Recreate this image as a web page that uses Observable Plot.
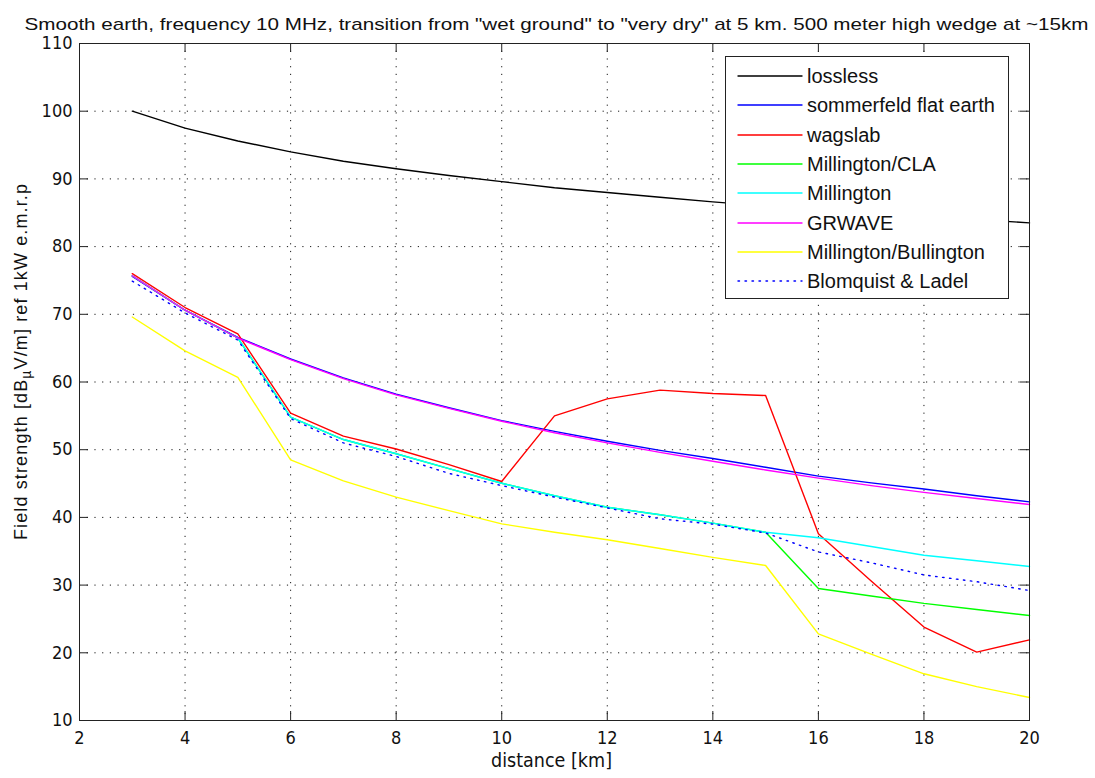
<!DOCTYPE html>
<html><head><meta charset="utf-8">
<script src="https://cdn.jsdelivr.net/npm/d3@7"></script>
<script src="https://cdn.jsdelivr.net/npm/@observablehq/plot@0.6"></script>
<style>
body{margin:0;background:#fff;}
#wrap{position:relative;width:1095px;height:778px;overflow:hidden;}
#legend{position:absolute;left:725px;top:56px;width:284px;height:243px;border:1px solid #222;background:#fff;box-sizing:border-box;font-family:"Liberation Sans",Arial,sans-serif;font-size:20px;color:#111;}
.row{position:absolute;left:0;height:28px;line-height:28px;white-space:nowrap;}
.row svg{position:absolute;left:11px;top:0;}
.row span{position:absolute;left:81px;top:0;}
</style></head><body><div id="wrap"></div>
<script>
const distance = [3,4,5,6,7,8,9,10,11,12,13,14,15,16,17,18,19,20];
const lossless = [100,97.5,95.6,94.0,92.6,91.5,90.5,89.6,88.7,88.0,87.3,86.6,86.0,85.5,84.9,84.4,84.0,83.5];
const sommerfeld = [75.6,70.6,66.6,63.4,60.6,58.2,56.2,54.3,52.7,51.25,49.9,48.7,47.4,46.1,45.1,44.2,43.2,42.3];
const wagslab = [76.0,71.0,67.1,55.4,52.0,50.1,47.8,45.3,55.0,57.5,58.8,58.3,58.0,37.6,30.6,23.8,20.1,21.9];
const millingtonCLA = [75.7,70.6,66.5,54.8,51.5,49.4,47.2,45.05,43.2,41.5,40.4,39.15,37.8,29.5,28.4,27.3,26.4,25.5];
const millington = [75.7,70.6,66.5,54.8,51.5,49.4,47.2,45.05,43.2,41.5,40.4,39.15,37.8,37.0,35.7,34.4,33.6,32.75];
const grwave = [75.7,70.6,66.5,63.3,60.5,58.1,56.1,54.2,52.5,51.0,49.6,48.3,47.0,45.8,44.7,43.7,42.8,41.9];
const bullington = [69.6,64.6,60.7,48.5,45.4,43.0,41.0,39.05,37.8,36.7,35.4,34.1,32.9,22.8,19.8,16.9,15.0,13.4];
const blomquist = [74.9,70.2,66.2,54.6,51.0,49.0,46.5,44.7,43.0,41.4,39.8,39.0,37.7,34.9,33.3,31.5,30.5,29.2];

const seriesNames = ["lossless","sommerfeld flat earth","wagslab","Millington/CLA","Millington","GRWAVE","Millington/Bullington","Blomquist & Ladel"];
const seriesValues = [lossless,sommerfeld,wagslab,millingtonCLA,millington,grwave,bullington,blomquist];
const seriesColors = ["#000000","#0000ff","#ff0000","#00ff00","#00ffff","#ff00ff","#ffff00","#0000ff"];
const seriesDash = [null,null,null,null,null,null,null,"1.5,5.5"];

const xTicks = [2,4,6,8,10,12,14,16,18,20];
const yTicks = [10,20,30,40,50,60,70,80,90,100,110];
const titleText = "Smooth earth, frequency 10 MHz, transition from \"wet ground\" to \"very dry\" at 5 km. 500 meter high wedge at ~15km";
const xLabel = "distance [km]";
const yLabel = "Field strength [dBµV/m] ref 1kW e.m.r.p";

const W = 1095, H = 778, mL = 79, mR = 66, mT = 43, mB = 58;
const fw = W - mL - mR, fh = H - mT - mB;
const narrow = "'Liberation Sans Narrow','DejaVu Sans Condensed','Liberation Sans',sans-serif";
const sans = "'Liberation Sans',Arial,sans-serif";
const axisColor = "#222";

const lineMarks = seriesNames.map((name, i) => Plot.line(
  distance.map((d, j) => ({x: d, y: seriesValues[i][j]})),
  {x: "x", y: "y", stroke: seriesColors[i], strokeWidth: 1.4, strokeDasharray: seriesDash[i] ?? undefined, strokeLinecap: "round"}
));

const plot = Plot.plot({
  width: W, height: H,
  marginLeft: mL, marginRight: mR, marginTop: mT, marginBottom: mB,
  style: {background: "#fff", fontFamily: narrow, color: "#111"},
  x: {domain: [2, 20]},
  y: {domain: [10, 110]},
  marks: [
    Plot.gridX(xTicks.slice(1, -1), {stroke: "#000", strokeOpacity: 0.9, strokeDasharray: "1.2,6.5"}),
    Plot.gridY(yTicks.slice(1, -1), {stroke: "#000", strokeOpacity: 0.9, strokeDasharray: "1.2,6.5"}),
    ...lineMarks,
    Plot.tickX(xTicks, {x: d => d, stroke: axisColor, insetTop: fh - 9}),
    Plot.tickX(xTicks, {x: d => d, stroke: axisColor, insetBottom: fh - 9}),
    Plot.tickY(yTicks, {y: d => d, stroke: axisColor, insetRight: fw - 9}),
    Plot.tickY(yTicks, {y: d => d, stroke: axisColor, insetLeft: fw - 9}),
    Plot.frame({stroke: axisColor}),
    Plot.axisX(xTicks, {tickSize: 0, tickPadding: 11, fontSize: 18, label: null, fontFamily: narrow}),
    Plot.axisY(yTicks, {tickSize: 0, tickPadding: 7, fontSize: 18, label: null, fontFamily: narrow}),
    Plot.text([titleText], {frameAnchor: "top", dx: 2, dy: -26, fontSize: 17, fontFamily: sans, fill: "#111"}),
    Plot.text([xLabel], {frameAnchor: "bottom", dx: -3, dy: 46, fontSize: 19, fontFamily: narrow, fill: "#111"}),
    Plot.text([yLabel], {frameAnchor: "left", dx: -58, dy: -20, rotate: -90, textAnchor: "middle", fontSize: 18, fontFamily: sans, fill: "#111"})
  ]
});
document.getElementById("wrap").appendChild(plot);

// post-process texts: subscript µ and stretched lengths like the reference
d3.select(plot).selectAll("text").each(function() {
  const t = d3.select(this);
  const s = t.text();
  if (s === yLabel) {
    t.text(null);
    t.append("tspan").text("Field strength [dB");
    t.append("tspan").attr("baseline-shift", "-25%").attr("font-size", "14").text("µ");
    t.append("tspan").text("V/m] ref 1kW e.m.r.p");
    t.attr("textLength", 356).attr("lengthAdjust", "spacing");
  } else if (s === titleText) {
    t.attr("textLength", 1064).attr("lengthAdjust", "spacingAndGlyphs");
  } else if (s === xLabel) {
    t.attr("textLength", 121).attr("lengthAdjust", "spacingAndGlyphs");
  }
});

// legend
const legend = document.createElement("div");
legend.id = "legend";
seriesNames.forEach((name, i) => {
  const row = document.createElement("div");
  row.className = "row";
  row.style.top = (5 + i * 29.3) + "px";
  row.style.width = "280px";
  const dash = seriesDash[i] ? `stroke-dasharray="${seriesDash[i]}"` : "";
  row.innerHTML = `<svg width="66" height="28"><line x1="1" x2="65" y1="14" y2="14" stroke="${seriesColors[i]}" stroke-width="1.4" stroke-linecap="round" ${dash}/></svg><span>${name.replace("&","&amp;")}</span>`;
  legend.appendChild(row);
});
document.getElementById("wrap").appendChild(legend);
</script>
</body></html>
